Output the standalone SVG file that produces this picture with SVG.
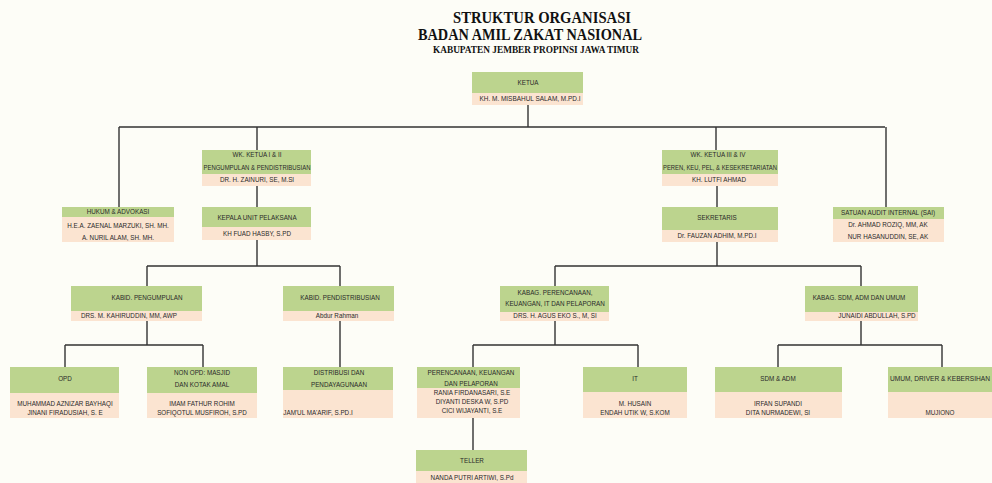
<svg xmlns="http://www.w3.org/2000/svg" width="992" height="483" viewBox="0 0 992 483">
<style>
.bg{fill:#fdfdf7}
.g{fill:#bcd48e}
.p{fill:#fbe4d1}
.t{font-family:"Liberation Sans",Arial,sans-serif;font-size:6.3px;fill:#2a2a2a;text-anchor:middle}
.h{font-family:"Liberation Serif","Times New Roman",serif;font-weight:bold;fill:#111;text-anchor:middle}
.c{stroke:#333;stroke-width:1.4;fill:none}
</style>
<rect class="bg" x="0" y="0" width="992" height="483"/>
<g id="title">
<text class="h" x="542" y="23" font-size="16" textLength="178" lengthAdjust="spacingAndGlyphs">STRUKTUR ORGANISASI</text>
<text class="h" x="530" y="40" font-size="16" textLength="224" lengthAdjust="spacingAndGlyphs">BADAN AMIL ZAKAT NASIONAL</text>
<text class="h" x="536" y="53" font-size="9.5" textLength="206" lengthAdjust="spacingAndGlyphs">KABUPATEN JEMBER PROPINSI JAWA TIMUR</text>
</g>
<g id="connectors">
<path class="c" d="M528 105V127M119 127H885M119 127V207M257 127V150M716 127V150M886 127V207"/>
<path class="c" d="M257 186V207M257 240V266M147 266H340M147 266V286M340 266V286"/>
<path class="c" d="M717 186V207M717 242V266M555 266H861M555 266V286M861 266V286"/>
<path class="c" d="M147 321V345M65 345H203M65 345V367M203 345V367M340 321V367"/>
<path class="c" d="M555 321V345M473 345H638M473 345V367M638 345V367"/>
<path class="c" d="M861 321V345M778 345H942M778 345V367M942 345V367M473 418V450"/>
</g>
<g id="ketua">
<rect class="g" x="472" y="72" width="111" height="21"/><rect class="p" x="472" y="93" width="111" height="12"/>
<text class="t" x="528" y="85">KETUA</text><text class="t" x="530" y="101" textLength="101" lengthAdjust="spacingAndGlyphs">KH. M. MISBAHUL SALAM, M.PD.I</text>
</g>
<g id="wk12">
<rect class="g" x="202" y="150" width="109" height="24"/><rect class="p" x="202" y="174" width="109" height="12"/>
<text class="t" x="257" y="157">WK. KETUA I &amp; II</text><text class="t" x="257" y="170" textLength="107" lengthAdjust="spacingAndGlyphs">PENGUMPULAN &amp; PENDISTRIBUSIAN</text><text class="t" x="257" y="182">DR. H. ZAINURI, SE, M.SI</text>
</g>
<g id="hukum">
<rect class="g" x="62" y="207" width="112" height="10"/><rect class="p" x="62" y="217" width="112" height="25"/>
<text class="t" x="118" y="214">HUKUM &amp; ADVOKASI</text><text class="t" x="118" y="228">H.E.A. ZAENAL MARZUKI, SH. MH.</text><text class="t" x="118" y="240">A. NURIL ALAM, SH. MH.</text>
</g>
<g id="kepala">
<rect class="g" x="202" y="207" width="109" height="20"/><rect class="p" x="202" y="227" width="109" height="13"/>
<text class="t" x="257" y="220">KEPALA UNIT PELAKSANA</text><text class="t" x="257" y="236">KH FUAD HASBY, S.PD</text>
</g>
<g id="wk34">
<rect class="g" x="662" y="150" width="116" height="24"/><rect class="p" x="662" y="174" width="116" height="12"/>
<text class="t" x="718" y="157">WK. KETUA III &amp; IV</text><text class="t" x="720" y="170" textLength="114" lengthAdjust="spacingAndGlyphs">PEREN, KEU, PEL, &amp; KESEKRETARIATAN</text><text class="t" x="719" y="182">KH. LUTFI AHMAD</text>
</g>
<g id="sekretaris">
<rect class="g" x="662" y="207" width="116" height="23"/><rect class="p" x="662" y="230" width="116" height="12"/>
<text class="t" x="717" y="220">SEKRETARIS</text><text class="t" x="717" y="238">Dr. FAUZAN ADHIM, M.PD.I</text>
</g>
<g id="sai">
<rect class="g" x="833" y="207" width="111" height="12"/><rect class="p" x="833" y="219" width="111" height="23"/>
<text class="t" x="888" y="215">SATUAN AUDIT INTERNAL (SAI)</text><text class="t" x="888" y="227">Dr. AHMAD ROZIQ, MM, AK</text><text class="t" x="888" y="239">NUR HASANUDDIN, SE, AK</text>
</g>
<g id="kabid-pengumpulan">
<rect class="g" x="71" y="286" width="131" height="25"/><rect class="p" x="71" y="311" width="131" height="10"/>
<text class="t" x="147" y="300">KABID. PENGUMPULAN</text><text class="t" x="129" y="318">DRS. M. KAHIRUDDIN, MM, AWP</text>
</g>
<g id="kabid-pendistribusian">
<rect class="g" x="283" y="286" width="111" height="25"/><rect class="p" x="283" y="311" width="111" height="10"/>
<text class="t" x="340" y="300">KABID. PENDISTRIBUSIAN</text><text class="t" x="337" y="318">Abdur  Rahman</text>
</g>
<g id="kabag-perencanaan">
<rect class="g" x="500" y="286" width="109" height="26"/><rect class="p" x="500" y="312" width="109" height="9"/>
<text class="t" x="555" y="295">KABAG. PERENCANAAN,</text><text class="t" x="555" y="306">KEUANGAN, IT DAN PELAPORAN</text><text class="t" x="555" y="318">DRS. H. AGUS EKO S., M, SI</text>
</g>
<g id="kabag-sdm">
<rect class="g" x="805" y="286" width="113" height="26"/><rect class="p" x="805" y="312" width="113" height="9"/>
<text class="t" x="859" y="300">KABAG. SDM, ADM DAN UMUM</text><text class="t" x="877" y="318">JUNAIDI ABDULLAH, S.PD</text>
</g>
<g id="opd">
<rect class="g" x="10" y="367" width="109" height="26"/><rect class="p" x="10" y="393" width="109" height="25"/>
<text class="t" x="65" y="381">OPD</text><text class="t" x="65" y="406">MUHAMMAD AZNIZAR BAYHAQI</text><text class="t" x="65" y="415">JINANI FIRADUSIAH, S. E</text>
</g>
<g id="non-opd">
<rect class="g" x="147" y="367" width="110" height="26"/><rect class="p" x="147" y="393" width="110" height="25"/>
<text class="t" x="202" y="375">NON OPD: MASJID</text><text class="t" x="202" y="387">DAN KOTAK AMAL</text><text class="t" x="202" y="406">IMAM FATHUR ROHIM</text><text class="t" x="202" y="415">SOFIQOTUL MUSFIROH, S.PD</text>
</g>
<g id="distribusi">
<rect class="g" x="283" y="367" width="110" height="23"/><rect class="p" x="283" y="390" width="110" height="28"/>
<text class="t" x="339" y="375">DISTRIBUSI DAN</text><text class="t" x="339" y="387">PENDAYAGUNAAN</text><text class="t" x="318" y="415">JAM'UL MA'ARIF, S.PD.I</text>
</g>
<g id="perencanaan">
<rect class="g" x="417" y="367" width="103" height="21"/><rect class="p" x="417" y="388" width="103" height="30"/>
<text class="t" x="471" y="375">PERENCANAAN, KEUANGAN</text><text class="t" x="471" y="386">DAN PELAPORAN</text><text class="t" x="472" y="395">RANIA FIRDANASARI, S.E</text><text class="t" x="472" y="404">DIYANTI DESKA W, S.PD</text><text class="t" x="472" y="413">CICI WIJAYANTI, S.E</text>
</g>
<g id="it">
<rect class="g" x="583" y="367" width="104" height="25"/><rect class="p" x="583" y="392" width="104" height="26"/>
<text class="t" x="635" y="381">IT</text><text class="t" x="635" y="406">M. HUSAIN</text><text class="t" x="635" y="415">ENDAH UTIK W, S.KOM</text>
</g>
<g id="sdm-adm">
<rect class="g" x="715" y="367" width="127" height="25"/><rect class="p" x="715" y="392" width="127" height="26"/>
<text class="t" x="778" y="381">SDM &amp; ADM</text><text class="t" x="778" y="406">IRFAN SUPANDI</text><text class="t" x="778" y="415">DITA NURMADEWI, SI</text>
</g>
<g id="umum">
<rect class="g" x="888" y="367" width="104" height="25"/><rect class="p" x="888" y="392" width="104" height="26"/>
<text class="t" x="940" y="381" textLength="100" lengthAdjust="spacingAndGlyphs">UMUM, DRIVER &amp; KEBERSIHAN</text><text class="t" x="940" y="415">MUJIONO</text>
</g>
<g id="teller">
<rect class="g" x="416" y="450" width="111" height="21"/><rect class="p" x="416" y="471" width="111" height="12"/>
<text class="t" x="472" y="463">TELLER</text><text class="t" x="472" y="480">NANDA PUTRI ARTIWI, S.Pd</text>
</g>
</svg>
